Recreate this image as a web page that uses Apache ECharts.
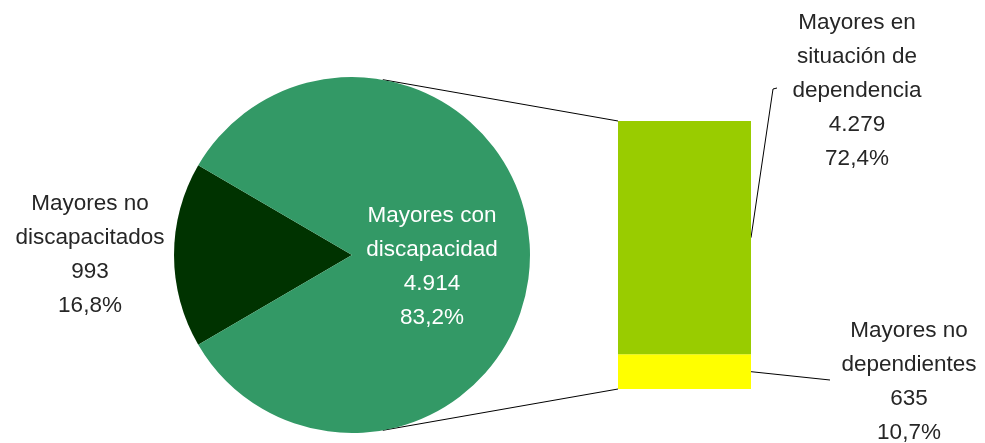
<!DOCTYPE html>
<html>
<head>
<meta charset="utf-8">
<script src="https://cdn.jsdelivr.net/npm/echarts@6/dist/echarts.min.js"></script>
<style>
  html, body { margin: 0; padding: 0; background: #fff; }
  #chart { width: 985px; height: 443px; }
</style>
</head>
<body>
<div id="chart"></div>
<script>
  // pie: all seniors
  var pieNames = ['Mayores no\ndiscapacitados', 'Mayores con\ndiscapacidad'];
  var pieValues = [993, 4914];
  var piePct = ['16,8%', '83,2%'];
  // bar: break-down of the disabled ones
  var barNames = ['Mayores no\ndependientes', 'Mayores en\nsituación de\ndependencia'];
  var barValues = [635, 4279];
  var barPct = ['10,7%', '72,4%'];

  var FONT = 'Liberation Sans';
  var fmt = function (v) { return String(v).replace(/\B(?=(\d{3})+(?!\d))/g, '.'); };
  var pieCenter = [352, 255], pieR = 178;
  var barTotal = barValues[0] + barValues[1];

  var chart = echarts.init(document.getElementById('chart'));

  var txt = { fontFamily: FONT, fontSize: 22.5, lineHeight: 34, color: '#262626', align: 'center' };

  chart.setOption({
    animation: false,
    grid: { left: 618, top: 121, width: 133, height: 268 },
    xAxis: { type: 'category', data: [''], show: false },
    yAxis: { type: 'value', min: 0, max: barTotal, show: false },
    series: [
      {
        type: 'pie',
        center: pieCenter,
        radius: pieR,
        startAngle: 180 + 180 * pieValues[0] / (pieValues[0] + pieValues[1]),
        clockwise: true,
        emphasis: { disabled: true },
        labelLine: { show: false, length: 6, length2: 0 },
        labelLayout: function (p) {
          if (p.dataIndex === 0) return { x: 90, y: 255, align: 'center', verticalAlign: 'middle' };
          return {};
        },
        data: [
          {
            name: pieNames[0], value: pieValues[0],
            itemStyle: { color: '#003300' },
            label: Object.assign({ show: true, position: 'outside',
              formatter: pieNames[0] + '\n' + fmt(pieValues[0]) + '\n' + piePct[0] }, txt)
          },
          {
            name: pieNames[1], value: pieValues[1],
            itemStyle: { color: '#339966' },
            label: Object.assign({}, txt, { show: true, position: 'inside', color: '#fff',
              offset: [-12, 12],
              formatter: pieNames[1] + '\n' + fmt(pieValues[1]) + '\n' + piePct[1] })
          }
        ]
      },
      {
        type: 'bar', stack: 'd', barWidth: '100%',
        itemStyle: { color: '#FFFF00' },
        data: [barValues[0]],
        label: Object.assign({ show: true,
          formatter: barNames[0] + '\n' + fmt(barValues[0]) + '\n' + barPct[0] }, txt),
        labelLayout: { x: 909, y: 382, align: 'center', verticalAlign: 'middle' }
      },
      {
        type: 'bar', stack: 'd', barWidth: '100%',
        itemStyle: { color: '#99CC00' },
        data: [barValues[1]],
        label: Object.assign({ show: true,
          formatter: barNames[1] + '\n' + fmt(barValues[1]) + '\n' + barPct[1] }, txt),
        labelLayout: { x: 857, y: 91, align: 'center', verticalAlign: 'middle' }
      }
    ]
  });

  // connector lines and leader lines, taken from the drawn geometry
  var topLeft = chart.convertToPixel({ gridIndex: 0 }, [0, barTotal]);
  var botLeft = chart.convertToPixel({ gridIndex: 0 }, [0, 0]);
  var halfW = 133 / 2;
  topLeft[0] -= halfW; botLeft[0] -= halfW;

  function tangent(p, upper) {
    var dx = p[0] - pieCenter[0], dy = pieCenter[1] - p[1];
    var d = Math.sqrt(dx * dx + dy * dy);
    var a = Math.atan2(dy, dx) + (upper ? 1 : -1) * Math.acos(pieR / d);
    return [pieCenter[0] + pieR * Math.cos(a), pieCenter[1] - pieR * Math.sin(a)];
  }
  var t1 = tangent(topLeft, true), t2 = tangent(botLeft, false);

  var greenMid = chart.convertToPixel({ gridIndex: 0 }, [0, barValues[0] + barValues[1] / 2]);
  var yellowMid = chart.convertToPixel({ gridIndex: 0 }, [0, barValues[0] / 2]);
  var ls = { stroke: '#000', lineWidth: 1 };

  chart.setOption({
    graphic: [
      { type: 'line', shape: { x1: t1[0], y1: t1[1], x2: topLeft[0], y2: topLeft[1] }, style: ls },
      { type: 'line', shape: { x1: t2[0], y1: t2[1], x2: botLeft[0], y2: botLeft[1] }, style: ls },
      { type: 'polyline', shape: { points: [[greenMid[0] + halfW, greenMid[1]], [773, 89], [777, 88]] }, style: ls },
      { type: 'line', shape: { x1: yellowMid[0] + halfW, y1: yellowMid[1], x2: 830, y2: 380 }, style: ls }
    ]
  });
</script>
</body>
</html>
